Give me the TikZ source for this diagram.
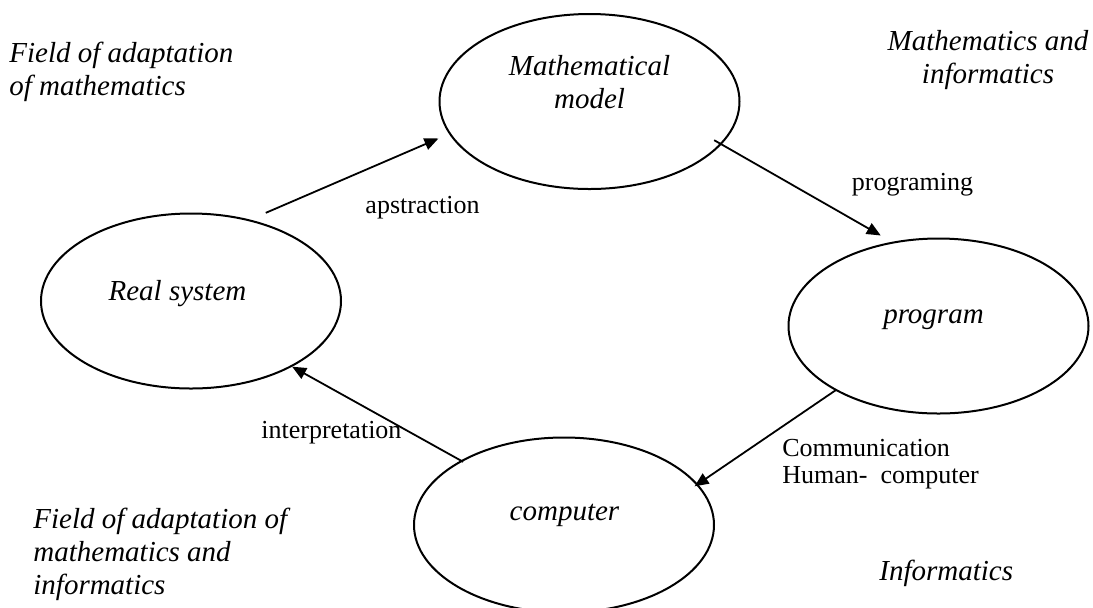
\documentclass[tikz,border=0pt]{standalone}
\usepackage{fontspec}
\setmainfont{Liberation Serif}
\usepackage{tikz}
\usetikzlibrary{shapes.geometric, arrows.meta, positioning}
\definecolor{inkblack}{HTML}{000000}

\begin{document}
\begin{tikzpicture}[x=0.5pt, y=0.5pt,
  field/.style={ellipse, draw=inkblack, line width=1pt, minimum width=150pt, minimum height=87.5pt, inner sep=0pt},
  fieldtext/.style={inkblack, font=\fontsize{14.5}{16.5}\selectfont\itshape, align=center, inner sep=0pt},
  areatext/.style={inkblack, font=\fontsize{14.5}{16.5}\selectfont\itshape, inner sep=0pt},
  steptext/.style={inkblack, font=\fontsize{13}{13.5}\selectfont, inner sep=0pt},
  flow/.style={inkblack, line width=0.9pt, -{Triangle[length=7pt, width=6pt]}}
]
  % Page background
  \fill[white] (0,0) rectangle (1093,-607);
  \useasboundingbox (0,0) rectangle (1093,-607);

  % The four stages of the cycle
  \node[field, label={[fieldtext, shift={(0,19.7)}]center:Mathematical\\model}] (mm) at (589.5,-101.5) {};
  \node[field, label={[fieldtext, shift={(-13.5,7.8)}]center:Real system}] (rs) at (191,-301) {};
  \node[field, label={[fieldtext, shift={(-5,6.4)}]center:program}] (pg) at (938.5,-326) {};
  \node[field, label={[fieldtext, shift={(0.5,10)}]center:computer}] (cp) at (564,-525) {};

  % Arrows between stages
  \draw[flow, shorten <=8.5pt, shorten >=5.75pt] (rs.54) -- (mm.193.4);
  \draw[flow, shorten <=-4.25pt, shorten >=6.4pt] (mm.342.4) -- (pg.119.9);
  \draw[flow, shorten <=-0.75pt, shorten >=-2pt] (pg.212.1) -- (cp.17.8);
  \draw[flow, shorten <=-1.4pt] (cp.148.5) -- (rs.327.9);

  % Arrow labels (base = last line)
  \node[steptext, anchor=base] (labs) at (422.5,-213) {apstraction};
  \node[steptext, anchor=base] (lprog) at (912.5,-190) {programing};
  \node[steptext, anchor=base west] (lint) at (261,-438) {interpretation};
  \node[steptext, align=left, anchor=base west] (lcom) at (782,-483) {Communication\\Human-\ \ computer};

  % Fields in the corners
  \node[areatext, align=left, anchor=base west] (fadm) at (9,-95) {Field of adaptation\\of mathematics};
  \node[areatext, align=center, anchor=base] (fmi) at (988,-83) {Mathematics and\\informatics};
  \node[areatext, align=left, anchor=base west] (fadmi) at (33,-594) {Field of adaptation of\\mathematics and\\informatics};
  \node[areatext, anchor=base west] (finf) at (879,-580) {Informatics};
\end{tikzpicture}
\end{document}
